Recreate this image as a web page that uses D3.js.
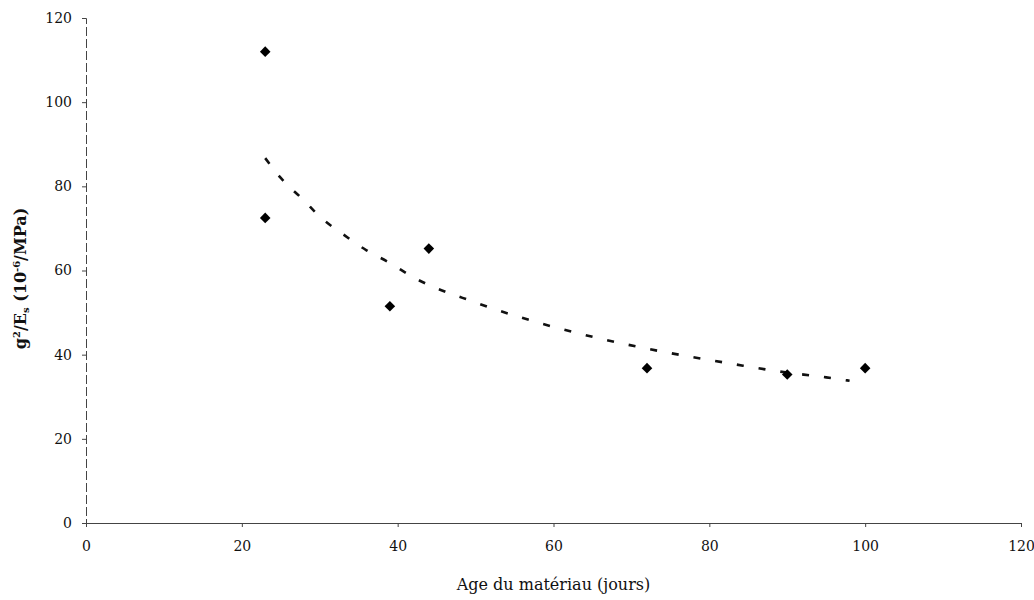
<!DOCTYPE html>
<html>
<head>
<meta charset="utf-8">
<script src="https://cdn.jsdelivr.net/npm/d3@7"></script>
<style>
  body { margin: 0; background: #fff; }
  text { font-family: "DejaVu Serif", "Liberation Serif", serif; fill: #111; }
</style>
</head>
<body>
<div id="chart"></div>
<script>
// --------------------------------------
//  Data
// --------------------------------------

const ageDays = [23, 23, 39, 44, 72, 90, 100];
const gEs = [112, 72.5, 51.5, 65.2, 36.8, 35.3, 36.8];

// trend line
const trendX = [23, 25, 28, 30, 33, 36, 39, 42, 50, 60, 71, 77, 83, 89, 95, 98];
const trendY = [86.7, 82, 76.6, 72.8, 68.6, 64.8, 61.8, 58.4, 52.4, 46.6, 41.8, 39.7, 37.8, 36, 34.6, 33.8];

const xTicks = [0, 20, 40, 60, 80, 100, 120];
const yTicks = [0, 20, 40, 60, 80, 100, 120];

// --------------------------------------
//  Margin and canvas
// --------------------------------------

const width = 1034;
const height = 600;
const margin = {top: 18, right: 13, bottom: 77, left: 86};

const svg = d3.select("#chart")
  .append("svg")
    .attr("width", width)
    .attr("height", height);

const inner = svg.append("g")
  .attr("transform", `translate(${margin.left}, ${margin.top})`);

const innerW = width - margin.left - margin.right;
const innerH = height - margin.top - margin.bottom;

// --------------------------------------
//  Scales
// --------------------------------------

const x = d3.scaleLinear().domain([0, 120]).range([0, innerW]);
const y = d3.scaleLinear().domain([0, 120]).range([innerH, 0]);

// --------------------------------------
//  Axes
// --------------------------------------

const yAxis = inner.append("g")
  .call(d3.axisLeft(y).tickValues(yTicks).tickSize(4).tickPadding(10));
yAxis.select(".domain")
  .attr("stroke", "#444")
  .attr("stroke-dasharray", "9,3");

const xAxis = inner.append("g")
  .attr("transform", `translate(0, ${innerH})`)
  .call(d3.axisBottom(x).tickValues(xTicks).tickSize(4).tickPadding(14));
xAxis.select(".domain").attr("stroke", "#444");

inner.selectAll(".tick line").attr("stroke", "#444");
inner.selectAll(".tick text")
  .attr("font-size", 14)
  .attr("font-family", "DejaVu Serif, serif");

// --------------------------------------
//  Trend and points
// --------------------------------------

const trend = trendX.map((d, i) => [d, trendY[i]]);

inner.append("path")
  .attr("d", d3.line()
    .x(d => x(d[0]))
    .y(d => y(d[1]))
    .curve(d3.curveMonotoneX)(trend))
  .attr("fill", "none")
  .attr("stroke", "#111")
  .attr("stroke-width", 2.6)
  .attr("stroke-dasharray", "7,15");

inner.selectAll(".pt")
  .data(ageDays)
  .join("path")
    .attr("class", "pt")
    .attr("d", d3.symbol(d3.symbolSquare, 56))
    .attr("transform", (d, i) => `translate(${x(d)}, ${y(gEs[i])}) rotate(45)`)
    .attr("fill", "#000");

// --------------------------------------
//  Labels
// --------------------------------------

svg.append("text")
  .attr("x", margin.left + innerW / 2)
  .attr("y", 590)
  .attr("text-anchor", "middle")
  .attr("font-size", 16)
  .text("Age du matériau (jours)");

const yl = svg.append("text")
  .attr("transform", `translate(26, ${margin.top + innerH / 2 + 8}) rotate(-90)`)
  .attr("text-anchor", "middle")
  .attr("font-size", 16)
  .attr("font-weight", "bold");
yl.append("tspan").text("g");
yl.append("tspan").attr("font-size", 10).attr("dy", -6).text("2");
yl.append("tspan").attr("dy", 6).text("/E");
yl.append("tspan").attr("font-size", 10).attr("dy", 3).text("s");
yl.append("tspan").attr("dy", -3).text(" (10");
yl.append("tspan").attr("font-size", 10).attr("dy", -6).text("-6");
yl.append("tspan").attr("dy", 6).text("/MPa)");
</script>
</body>
</html>
